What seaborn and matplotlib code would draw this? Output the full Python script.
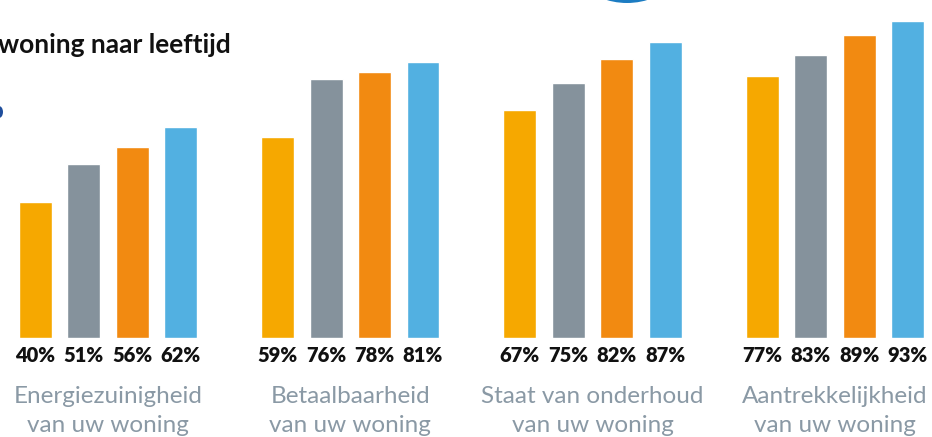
import matplotlib
matplotlib.use("Agg")
import matplotlib.pyplot as plt
from matplotlib.patches import Circle, Ellipse
import pandas as pd
import seaborn as sns

# data
aspecten = ["Energiezuinigheid\nvan uw woning", "Betaalbaarheid\nvan uw woning",
            "Staat van onderhoud\nvan uw woning", "Aantrekkelijkheid\nvan uw woning"]
leeftijden = ["18-34 jaar", "35-49 jaar", "50-64 jaar", "65+ jaar"]
energie = [40, 51, 56, 62]
betaalbaar = [59, 76, 78, 81]
onderhoud = [67, 75, 82, 87]
aantrekkelijk = [77, 83, 89, 93]
kleuren = ["#F6A800", "#85929C", "#F28A11", "#52B0E1"]

rows = []
for asp, vals in zip(aspecten, [energie, betaalbaar, onderhoud, aantrekkelijk]):
    for lft, v in zip(leeftijden, vals):
        rows.append({"aspect": asp, "leeftijd": lft, "pct": v})
df = pd.DataFrame(rows)

sns.set_style("white")
plt.rcParams["font.family"] = ["Lato", "DejaVu Sans"]

fig = plt.figure(figsize=(9.32, 4.37), dpi=100)
ax = fig.add_axes([0, 0.2272, 1, 0.7728])

sns.barplot(data=df, x="aspect", y="pct", hue="leeftijd", palette=kleuren,
            saturation=1, width=0.8, gap=0.32, legend=False, ax=ax)

ax.set_ylim(0, 99.3)
ax.set_xlim(-0.4457, 3.4007)
ax.set_xlabel("")
ax.set_ylabel("")
ax.set_yticks([])
sns.despine(ax=ax, left=True, bottom=True)
ax.tick_params(axis="x", length=0, pad=35, labelsize=17.5, labelcolor="#8A99A5")
for lab in ax.get_xticklabels():
    lab.set_linespacing(1.45)

# percentage labels under each bar
for bar in ax.patches:
    h = bar.get_height()
    if h <= 0:
        continue
    ax.text(bar.get_x() + bar.get_width() / 2, -5.1, f"{h:.0f}%",
            ha="center", va="center", fontsize=14.5, fontweight="heavy",
            color="#111111", clip_on=False)

# (cut-off) title
fig.text(231 / 932, 1 - 53 / 437, "woning naar leeftijd", ha="right",
         va="baseline", fontsize=19, fontweight="bold", color="#111111")

# decorative fragments at the edges
fig.patches.append(Circle((627, 437 + 68), 71, transform=None,
                          facecolor="#1C7CC2", edgecolor="none"))
fig.patches.append(Ellipse((-1, 437 - 112), 8, 12, transform=None,
                           facecolor="#1F4E9C", edgecolor="none"))

fig.savefig("out.png", dpi=100)
